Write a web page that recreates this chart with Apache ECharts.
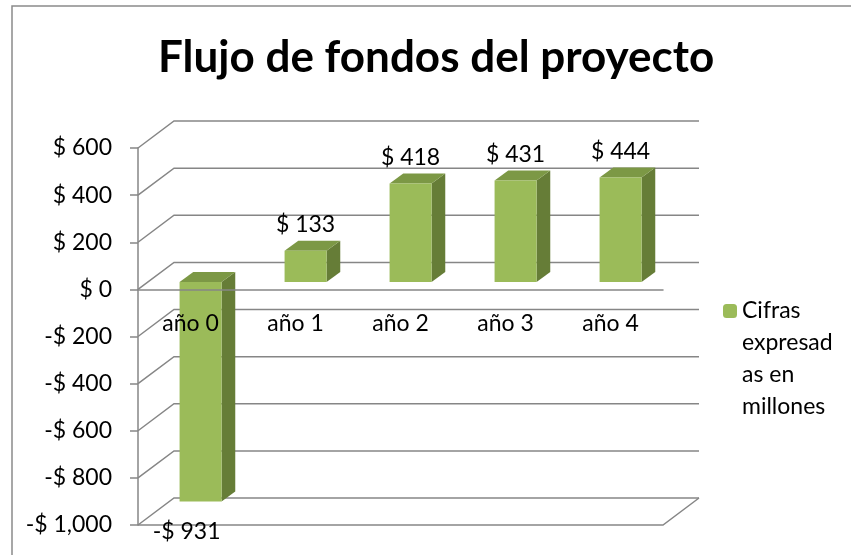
<!DOCTYPE html>
<html lang="es" style="height: 100%">
<head>
  <meta charset="utf-8">
</head>
<body style="height: 100%; margin: 0; background: #fff">
  <div id="container" style="width: 851px; height: 555px"></div>

  <script type="text/javascript" src="https://cdn.jsdelivr.net/npm/echarts@6/dist/echarts.min.js"></script>

  <script type="text/javascript">
    // datos del gráfico
    var categories = ['año 0', 'año 1', 'año 2', 'año 3', 'año 4'];
    var seriesName = 'Cifras expresadas en millones';
    var values = [-931, 133, 418, 431, 444];
    var yTicks = [-1000, -800, -600, -400, -200, 0, 200, 400, 600];

    var FONT = 'Lato';
    var GRID_COLOR = '#868686';
    var DEPTH_X = 36, DEPTH_Y = -27;   // profundidad del "3D"
    var FRONT_COLOR = '#9BBB59', TOP_COLOR = '#7C9845', SIDE_COLOR = '#667D37';

    function money(v) {
      var s = '$ ' + Math.abs(v).toLocaleString('en-US');
      return v < 0 ? '-' + s : s;
    }

    var dom = document.getElementById('container');
    var myChart = echarts.init(dom, null, { renderer: 'canvas' });

    // paredes y piso detrás de las barras
    function renderWall(params, api) {
      var cs = params.coordSys;
      var x0 = cs.x, x1 = cs.x + cs.width;
      var v = api.value(1);
      var y = api.coord([0, v])[1];
      var style = { stroke: GRID_COLOR, lineWidth: 1.5, fill: null };
      var children = [{
        type: 'polyline',
        shape: { points: [[x0, y], [x0 + DEPTH_X, y + DEPTH_Y], [x1 + DEPTH_X, y + DEPTH_Y]] },
        style: style
      }];
      if (params.dataIndex === 0) {
        children.push({
          type: 'polyline',
          shape: { points: [[x0, y], [x1, y], [x1 + DEPTH_X, y + DEPTH_Y]] },
          style: style
        });
      }
      return { type: 'group', children: children };
    }

    // barras 3D con su etiqueta y la categoría
    function renderBar(params, api) {
      var i = api.value(0);
      var v = api.value(1);
      var band = api.size([1, 0])[0];
      var p0 = api.coord([i, 0]);
      var p1 = api.coord([i, v]);
      var w = band * 0.4;
      var cx = p0[0] + DEPTH_X * 0.28;
      var yTop = Math.min(p0[1], p1[1]) + DEPTH_Y * 0.27;
      var yBot = Math.max(p0[1], p1[1]) + DEPTH_Y * 0.27;
      var xl = cx - w / 2, xr = cx + w / 2;
      var bdx = DEPTH_X * 0.38, bdy = DEPTH_Y * 0.37;
      var label = v >= 0
        ? { x: cx, y: yTop - 26 }
        : { x: cx - 14, y: yBot + 30 };
      var textStyle = {
        fontFamily: FONT,
        fontSize: 23,
        fill: '#000',
        align: 'center',
        verticalAlign: 'middle'
      };
      return {
        type: 'group',
        children: [
          {
            type: 'polygon',
            shape: { points: [[xr, yTop], [xr + bdx, yTop + bdy], [xr + bdx, yBot + bdy], [xr, yBot]] },
            style: { fill: SIDE_COLOR }
          },
          {
            type: 'polygon',
            shape: { points: [[xl, yTop], [xr, yTop], [xr + bdx, yTop + bdy], [xl + bdx, yTop + bdy]] },
            style: { fill: TOP_COLOR }
          },
          {
            type: 'rect',
            shape: { x: xl, y: yTop, width: w, height: yBot - yTop },
            style: { fill: FRONT_COLOR }
          },
          {
            type: 'text',
            x: label.x,
            y: label.y,
            style: Object.assign({ text: money(v) }, textStyle)
          },
          {
            type: 'text',
            x: p0[0],
            y: p0[1] + 34,
            style: Object.assign({ text: categories[i] }, textStyle)
          }
        ]
      };
    }

    var option = {
      animation: false,
      title: {
        text: 'Flujo de fondos del proyecto',
        left: 153,
        top: 31,
        textStyle: { fontFamily: FONT, fontSize: 44, fontWeight: 'bold', color: '#000' }
      },
      graphic: [{
        type: 'rect',
        shape: { x: 12, y: 6, width: 900, height: 600 },
        style: { fill: null, stroke: '#8a8a8a', lineWidth: 1.5 },
        silent: true
      }],
      legend: {
        data: [seriesName],
        left: 723,
        top: 199,
        padding: 0,
        itemWidth: 14,
        itemHeight: 14,
        itemGap: 7,
        // líneas vacías arriba para que el cuadro quede junto a la primera línea
        formatter: function () { return '\n\n\nCifras\nexpresad\nas en\nmillones'; },
        textStyle: {
          fontFamily: FONT,
          fontSize: 23,
          color: '#000',
          lineHeight: 32
        }
      },
      grid: { left: 138, right: 188, top: 148, bottom: 30, containLabel: false, outerBoundsMode: 'none' },
      xAxis: {
        type: 'category',
        data: categories,
        z: 3,
        axisLine: { onZero: true, lineStyle: { color: GRID_COLOR, width: 1.5 } },
        axisTick: { length: 8, lineStyle: { color: GRID_COLOR, width: 1.5 } },
        axisLabel: { show: false }
      },
      yAxis: {
        type: 'value',
        min: -1000,
        max: 600,
        interval: 200,
        axisLine: { show: true, lineStyle: { color: GRID_COLOR, width: 1.5 } },
        axisTick: { show: true, length: 8, lineStyle: { color: GRID_COLOR, width: 1.5 } },
        splitLine: { show: false },
        axisLabel: {
          margin: 26,
          fontFamily: FONT,
          fontSize: 23,
          color: '#000',
          formatter: money
        }
      },
      series: [
        {
          name: 'pared',
          type: 'custom',
          z: 1,
          silent: true,
          renderItem: renderWall,
          encode: { x: 0, y: 1 },
          data: yTicks.map(function (v) { return [0, v]; })
        },
        {
          name: seriesName,
          type: 'custom',
          z: 2,
          itemStyle: { color: FRONT_COLOR },
          renderItem: renderBar,
          encode: { x: 0, y: 1 },
          data: values.map(function (v, i) { return [i, v]; })
        }
      ]
    };

    myChart.setOption(option);
    window.addEventListener('resize', myChart.resize);
  </script>
</body>
</html>
